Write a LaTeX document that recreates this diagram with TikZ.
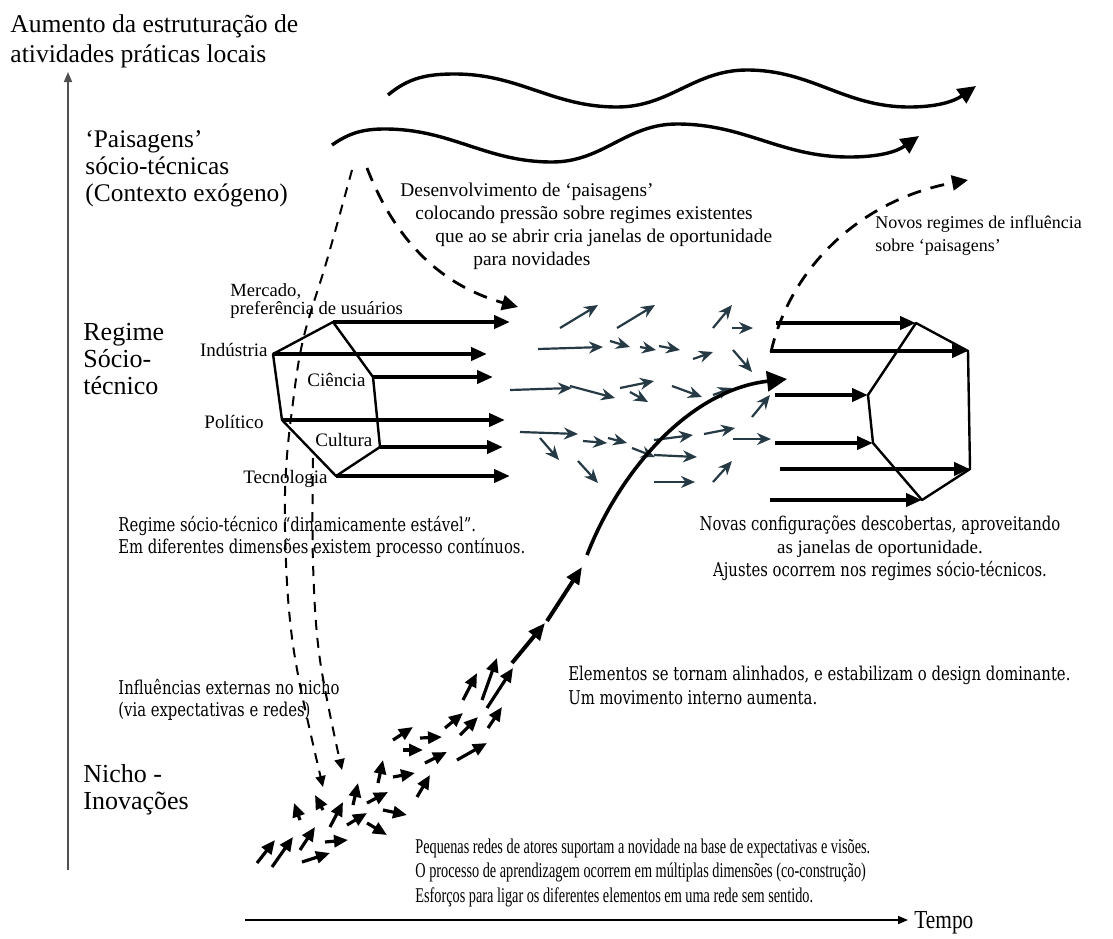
\documentclass[tikz,border=0pt]{standalone}
\usepackage{fontspec}
\setmainfont{Liberation Serif}
\newfontfamily\slabfont[FakeStretch=0.78]{DejaVu Serif}
\newfontfamily\narrowfont[FakeStretch=0.68]{Liberation Serif}
\newfontfamily\halfnarrow[FakeStretch=0.82]{Liberation Serif}
\usetikzlibrary{arrows.meta}

\definecolor{swarm}{RGB}{38,58,70}
\definecolor{axisgray}{RGB}{80,80,80}

\tikzset{
  lbl/.style={inner sep=0pt},
  fat/.style={line width=2pt,-{Triangle[length=8pt,width=6.5pt]}},
  wave/.style={line width=1.7pt,-{Triangle[length=9pt,width=8.5pt]}},
  face/.style={line width=1.2pt,line join=round},
  pressure/.style={line width=1.4pt,dash pattern=on 7pt off 5pt,-{Triangle[length=8pt,width=7.5pt]}},
  influence/.style={line width=1pt,dash pattern=on 5pt off 4pt,-{Triangle[length=5.5pt,width=5pt]}},
  drift/.style={swarm,line width=1.1pt,-{Stealth[length=7pt,width=6pt]}},
  seed/.style={line width=1.6pt,-{Triangle[length=7pt,width=6pt]}},
  track/.style={line width=2pt,-{Triangle[length=8.5pt,width=7pt]}},
}

\begin{document}
\begin{tikzpicture}[x=0.5pt,y=-0.5pt]
\useasboundingbox (0,0) rectangle (1113,938);

  % axes
  \coordinate (yfoot) at (68,870);
  \coordinate (ytop)  at (68,72);
  \coordinate (tfoot) at (245,920);
  \coordinate (ttip)  at (908,920);
  \draw[axisgray,line width=0.8pt,-{Triangle[length=5pt,width=4pt]}] (yfoot) -- (ytop);
  \draw[line width=0.8pt,-{Triangle[length=5pt,width=4pt]}] (tfoot) -- (ttip);
  % multi-line labels sit on the baseline of their last line
  \node[lbl,anchor=base west,align=left,font=\fontsize{12.8}{15}\selectfont] (yaxis) at (10,62)
    {Aumento da estruturação de\\atividades práticas locais};
  \node[lbl,anchor=base west,font={\halfnarrow\fontsize{13}{15}\selectfont}] (tempo) at (914,928) {Tempo};

  % level names
  \node[lbl,anchor=base west,align=left,font=\fontsize{12.7}{13.3}\selectfont] (land) at (85,201)
    {‘Paisagens’\\sócio-técnicas\\(Contexto exógeno)};
  \node[lbl,anchor=base west,align=left,font=\fontsize{13}{13.3}\selectfont] (regime) at (83,394)
    {Regime\\Sócio-\\técnico};
  \node[lbl,anchor=base west,align=left,font=\fontsize{13}{13.5}\selectfont] (niche) at (83,809)
    {Nicho -\\Inovações};

  % landscape waves
  \draw[wave] (388,95) to[out=40,in=180] (455,74) to[out=0,in=180] (617,107)
    to[out=0,in=180] (747,70) to[out=0,in=180] (909,107) to[out=0,in=-145] (976,86);
  \draw[wave] (332,145) to[out=35,in=180] (385,129) to[out=0,in=180] (552,162)
    to[out=0,in=180] (677,124) to[out=0,in=180] (849,157) to[out=0,in=-145] (919,136);

  % pressure from landscape and back
  \draw[pressure] (367,168) .. controls (395,240) and (440,285) .. (518,307);
  \draw[pressure] (771,352) .. controls (790,268) and (860,200) .. (968,180);
  \draw[influence] plot[smooth,tension=0.6] coordinates
    {(352,170) (327,260) (303,340) (292,410) (286,470) (285,530) (289,610) (299,680) (323,787)};
  \draw[influence] plot[smooth,tension=0.6] coordinates
    {(313,458) (313,563) (320,660) (342,770)};

  \node[lbl,anchor=base west,font=\fontsize{9.7}{11}\selectfont] (dev1) at (400,196) {Desenvolvimento de ‘paisagens’};
  \node[lbl,anchor=base west,font=\fontsize{9.7}{11}\selectfont] (dev2) at (415,219) {colocando pressão sobre regimes existentes};
  \node[lbl,anchor=base west,font=\fontsize{9.7}{11}\selectfont] (dev3) at (435,242) {que ao se abrir cria janelas de oportunidade};
  \node[lbl,anchor=base west,font=\fontsize{9.7}{11}\selectfont] (dev4) at (473,265) {para novidades};
  \node[lbl,anchor=base west,align=left,font=\fontsize{9}{11.5}\selectfont] (newreg) at (875,251)
    {Novos regimes de influência\\sobre ‘paisagens’};

  % stable regime
  \coordinate (mer) at (333,322);
  \coordinate (cie) at (373,377);
  \coordinate (cul) at (380,447);
  \coordinate (tec) at (336,476);
  \coordinate (pol) at (282,420);
  \coordinate (ind) at (273,354);
  \draw[face] (mer) -- (cie) -- (cul) -- (tec) -- (pol) -- (ind) -- cycle;
  \draw[fat] (mer) -- ++(177,0);
  \draw[fat] (ind) -- ++(214,0);
  \draw[fat] (cie) -- ++(120,0);
  \draw[fat] (pol) -- ++(223,0);
  \draw[fat] (cul) -- ++(123,0);
  \draw[fat] (tec) -- ++(174,0);
  \node[lbl,anchor=base west,align=left,font=\fontsize{9.3}{8.8}\selectfont] (mkt) at (230,314)
    {Mercado,\\preferência de usuários};
  \node[lbl,anchor=base east,font=\fontsize{9.5}{11}\selectfont] (indl) at (268,356) {Indústria};
  \node[lbl,anchor=base east,font=\fontsize{9.5}{11}\selectfont] (poll) at (264,428) {Político};
  \node[lbl,anchor=base west,font=\fontsize{9.5}{11}\selectfont] (tecl) at (243,483) {Tecnologia};
  \node[lbl,anchor=base west,font=\fontsize{9.5}{11}\selectfont] (ciel) at (307,386) {Ciência};
  \node[lbl,anchor=base west,font=\fontsize{9.5}{11}\selectfont] (cull) at (315,446) {Cultura};
  \node[lbl,anchor=base west,align=left,font=\slabfont\fontsize{9.5}{11}\selectfont] (stable) at (118,553)
    {Regime sócio-técnico “dinamicamente estável”.\\Em diferentes dimensões existem processo contínuos.};

  % window of opportunity
  \foreach \xa/\ya/\xb/\yb in {560/328/598/305, 617/328/655/305, 713/328/732/305, 732/328/753/328,
      538/349/603/347, 610/341/630/347, 640/347/656/350, 659/346/680/350, 693/359/713/352, 733/350/752/372,
      510/390/572/388, 570/386/615/398, 620/388/654/381, 630/392/648/402, 672/386/702/397, 713/395/732/388,
      752/417/770/395, 520/432/578/434, 540/438/559/460, 583/441/607/443, 608/438/627/443, 632/448/655/457,
      654/440/693/435, 704/434/735/428, 733/439/771/439, 578/461/598/483, 654/455/697/457, 654/482/695/482,
      713/482/732/461}
    \draw[drift] (\xa,\ya) -- (\xb,\yb);

  % new regime
  \coordinate (r1) at (916,323);
  \coordinate (r2) at (968,351);
  \coordinate (r3) at (970,469);
  \coordinate (r4) at (922,500);
  \coordinate (r5) at (873,443);
  \coordinate (r6) at (868,395);
  \draw[face] (r1) -- (r2) -- (r3) -- (r4) -- (r5) -- (r6) -- cycle;
  \draw[fat] (776,323) -- (r1);
  \draw[fat] (770,351) -- (r2);
  \draw[fat] (775,395) -- (r6);
  \draw[fat] (775,443) -- (r5);
  \draw[fat] (780,469) -- (r3);
  \draw[fat] (770,500) -- (r4);
  \node[lbl,anchor=base,align=center,font=\slabfont\fontsize{9.5}{11.3}\selectfont] (config) at (880,576)
    {Novas configurações descobertas, aproveitando\\{\rmfamily\fontsize{9.5}{11.3}\selectfont as janelas de oportunidade.}\\Ajustes ocorrem nos regimes sócio-técnicos.};

  % niche
  \foreach \xa/\ya/\xb/\yb in {257/863/275/840, 272/867/293/837, 300/850/315/827, 302/862/330/853,
      325/842/348/840, 300/820/294/803, 323/810/315/795, 330/827/343/802, 347/825/367/813, 367/823/387/835,
      353/805/358/783, 367/803/388/792, 383/810/407/815, 378/783/383/760, 393/777/415/773, 417/797/430/775,
      403/750/423/750, 393/740/413/727, 420/738/442/737, 425/763/447/752, 457/760/487/743, 445/728/463/713,
      460/735/478/717, 488/728/502/707, 463/700/477/673, 482/700/497/658, 487/708/513/668}
    \draw[seed] (\xa,\ya) -- (\xb,\yb);

  % breakthrough
  \draw[track] (512,663) -- (545,623);
  \draw[track] (547,621) -- (582,567);
  \draw[line width=1.8pt,-{Triangle[length=10pt,width=10pt]}] (587,555) .. controls (620,470) and (690,390) .. (787,379);

  \node[lbl,anchor=base west,align=left,font=\slabfont\fontsize{9.5}{11}\selectfont] (extern) at (118,716)
    {Influências externas no nicho\\(via expectativas e redes)};
  \node[lbl,anchor=base west,align=left,font=\slabfont\fontsize{9.5}{12}\selectfont] (aligned) at (568,704)
    {Elementos se tornam alinhados, e estabilizam o design dominante.\\Um movimento interno aumenta.};
  \node[lbl,anchor=base west,align=left,font=\narrowfont\fontsize{10.5}{12.2}\selectfont] (small) at (415,902)
    {Pequenas redes de atores suportam a novidade na base de expectativas e visões.\\O processo de aprendizagem ocorrem em múltiplas dimensões (co-construção)\\Esforços para ligar os diferentes elementos em uma rede sem sentido.};
\end{tikzpicture}
\end{document}
